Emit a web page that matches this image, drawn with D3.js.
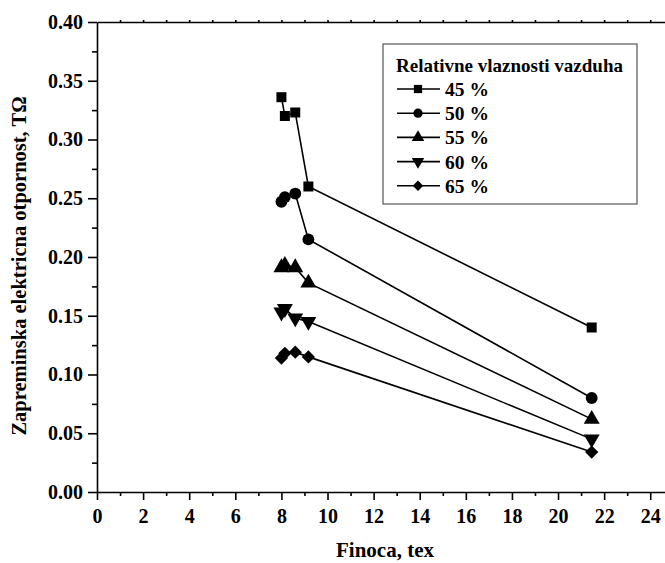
<!DOCTYPE html>
<html>
<head>
<meta charset="utf-8">
<script src="https://cdn.jsdelivr.net/npm/d3@7"></script>
<style>
  html, body { margin: 0; padding: 0; background: #fff; }
  svg { display: block; }
  text { font-family: "Liberation Serif", "Times New Roman", serif; font-weight: bold; fill: #000; }
</style>
</head>
<body>
<script>
// ---- data ----
const finoca = [8.0, 8.15, 8.6, 9.17, 21.46];
const rh45 = [0.336, 0.320, 0.323, 0.260, 0.140];
const rh50 = [0.247, 0.251, 0.254, 0.215, 0.080];
const rh55 = [0.191, 0.193, 0.191, 0.178, 0.062];
const rh60 = [0.153, 0.156, 0.148, 0.145, 0.045];
const rh65 = [0.114, 0.118, 0.119, 0.115, 0.034];
const seriesNames = ["45 %", "50 %", "55 %", "60 %", "65 %"];
const xTicks = [0, 2, 4, 6, 8, 10, 12, 14, 16, 18, 20, 22, 24];
const yTicks = [0.00, 0.05, 0.10, 0.15, 0.20, 0.25, 0.30, 0.35, 0.40];
const legendTitle = "Relativne vlaznosti vazduha";
const xTitle = "Finoca, tex";
const yTitle = "Zapreminska elektricna otpornost, TΩ";

const seriesValues = [rh45, rh50, rh55, rh60, rh65];
const symbols = ["square", "circle", "up", "down", "diamond"];

const W = 665, H = 563;
const FONT = '"Liberation Serif", "Times New Roman", serif';
const svg = d3.select("body").append("svg").attr("width", W).attr("height", H);

const x = d3.scaleLinear().domain([0, 24.64]).range([97, 665]);
const y = d3.scaleLinear().domain([0, 0.4]).range([492, 22]);

// minor ticks
const xMinor = d3.range(1, 25, 2);
const yMinor = d3.range(0.025, 0.4, 0.05);

// bottom axis
const gx = svg.append("g").attr("transform", `translate(0,${y(0)})`);
gx.call(d3.axisBottom(x).tickValues(xTicks).tickFormat(d3.format("d")).tickSize(8).tickPadding(9).tickSizeOuter(0));
gx.append("g").call(d3.axisBottom(x).tickValues(xMinor).tickFormat("").tickSize(4).tickSizeOuter(0))
  .select(".domain").remove();

// top axis (no labels)
const gt = svg.append("g").attr("transform", `translate(0,${y(0.4)})`);
gt.call(d3.axisTop(x).tickValues(d3.range(1, 25, 1)).tickFormat("").tickSize(2).tickSizeOuter(0));

// left axis
const gy = svg.append("g").attr("transform", `translate(${x(0)},0)`);
gy.call(d3.axisLeft(y).tickValues(yTicks).tickFormat(d3.format(".2f")).tickSize(9).tickPadding(5).tickSizeOuter(0));
gy.append("g").call(d3.axisLeft(y).tickValues(yMinor).tickFormat("").tickSize(5).tickSizeOuter(0))
  .select(".domain").remove();

svg.selectAll(".domain, .tick line").attr("stroke", "#000").attr("stroke-width", 1.6);
svg.selectAll(".tick text").style("font-size", "20px").style("font-family", FONT).style("font-weight", "bold");

// axis titles
svg.append("text").attr("x", 385).attr("y", 557).attr("text-anchor", "middle")
  .style("font-size", "21px").text(xTitle);
svg.append("text").attr("transform", `translate(26,266) rotate(-90)`).attr("text-anchor", "middle")
  .style("font-size", "20.5px").text(yTitle);

function symPath(s, size) {
  if (s === "square") return d3.symbol(d3.symbolSquare, size)();
  if (s === "circle") return d3.symbol(d3.symbolCircle, size)();
  if (s === "diamond") return d3.symbol(d3.symbolSquare, size * 0.8)();
  return d3.symbol(d3.symbolTriangle, size)();
}
function symTransform(s, px, py) {
  if (s === "down") return `translate(${px},${py}) rotate(180)`;
  if (s === "diamond") return `translate(${px},${py}) rotate(45)`;
  return `translate(${px},${py})`;
}
const sizes = [100, 110, 110, 110, 110];

// series
const line = d3.line().x(d => x(d[0])).y(d => y(d[1]));
seriesValues.forEach((vals, i) => {
  const pts = finoca.map((f, j) => [f, vals[j]]);
  svg.append("path").attr("d", line(pts)).attr("fill", "none").attr("stroke", "#000").attr("stroke-width", 1.6);
  svg.append("g").selectAll("path").data(pts).join("path")
    .attr("d", symPath(symbols[i], sizes[i]))
    .attr("transform", d => symTransform(symbols[i], x(d[0]), y(d[1])))
    .attr("fill", "#000");
});

// legend
const lg = svg.append("g");
lg.append("rect").attr("x", 383).attr("y", 44).attr("width", 254).attr("height", 160)
  .attr("fill", "#fff").attr("stroke", "#555").attr("stroke-width", 1.2);
lg.append("text").attr("x", 396).attr("y", 72).style("font-size", "19px").text(legendTitle);
seriesNames.forEach((name, i) => {
  const cy = 89 + i * 24.2;
  lg.append("line").attr("x1", 397).attr("x2", 440).attr("y1", cy).attr("y2", cy)
    .attr("stroke", "#000").attr("stroke-width", 1.6);
  lg.append("path").attr("d", symPath(symbols[i], 68)).attr("transform", symTransform(symbols[i], 418, cy)).attr("fill", "#000");
  lg.append("text").attr("x", 445).attr("y", cy + 7).style("font-size", "19.5px").text(name);
});
</script>
</body>
</html>
